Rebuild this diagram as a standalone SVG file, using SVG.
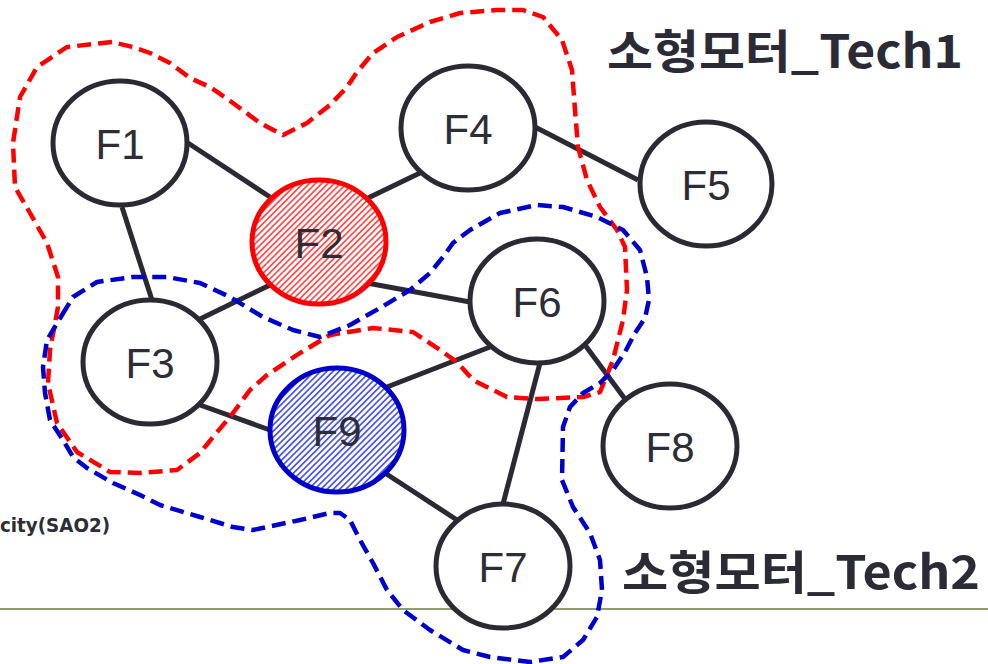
<svg xmlns="http://www.w3.org/2000/svg" width="988" height="664" viewBox="0 0 988 664">
<defs>
<pattern id="hatchRed" patternUnits="userSpaceOnUse" width="4.4" height="4.4" patternTransform="rotate(-45)">
<rect width="4.4" height="4.4" fill="#ffffff"/>
<rect width="4.4" height="1.7" fill="#ff4a4a"/>
</pattern>
<pattern id="hatchBlue" patternUnits="userSpaceOnUse" width="4.4" height="4.4" patternTransform="rotate(-45)">
<rect width="4.4" height="4.4" fill="#ffffff"/>
<rect width="4.4" height="1.7" fill="#4a55e6"/>
</pattern>
</defs>
<style>
.edge{stroke:#2b2a33;stroke-width:5;fill:none}
.node{fill:#ffffff;stroke:#2b2a33;stroke-width:5}
.lbl{font-family:"Liberation Sans",Arial,sans-serif;font-size:42px;fill:#2d2d35;text-anchor:middle}
.grp{fill:none;stroke-width:4.5;stroke-dasharray:14 7;stroke-linejoin:round}
.title{font-family:"Noto Sans CJK KR","Noto Sans",sans-serif;font-size:46px;font-weight:bold;fill:#2b2b35}
</style>
<rect width="988" height="664" fill="#ffffff"/>
<line x1="0" y1="609" x2="988" y2="609" stroke="#8f9c74" stroke-width="2.2"/>
<text x="0" y="532" font-family="'DejaVu Sans',Verdana,sans-serif" font-size="19.5" font-weight="bold" fill="#2d2d35" textLength="110" lengthAdjust="spacingAndGlyphs">city(SAO2)</text>
<g id="connectors">
<line class="edge" x1="188" y1="143" x2="270" y2="197"/>
<line class="edge" x1="122" y1="207" x2="152" y2="300"/>
<line class="edge" x1="270" y1="285" x2="198" y2="320"/>
<line class="edge" x1="368" y1="198" x2="422" y2="172"/>
<line class="edge" x1="535" y1="127" x2="638" y2="180"/>
<line class="edge" x1="367" y1="283" x2="470" y2="302"/>
<line class="edge" x1="200" y1="405" x2="270" y2="430"/>
<line class="edge" x1="387" y1="387" x2="490" y2="347"/>
<line class="edge" x1="540" y1="363" x2="503" y2="504"/>
<line class="edge" x1="585" y1="345" x2="625" y2="399"/>
<line class="edge" x1="385" y1="473" x2="457" y2="520"/>
</g>
<g id="node-F1"><ellipse class="node" cx="120" cy="143" rx="67" ry="62"/><text class="lbl" x="120" y="159">F1</text></g>
<g id="node-F2"><ellipse cx="319" cy="242" rx="67" ry="62" fill="url(#hatchRed)" stroke="#ff0000" stroke-width="5"/><text class="lbl" x="319" y="258">F2</text></g>
<g id="node-F3"><ellipse class="node" cx="150" cy="362" rx="67" ry="62"/><text class="lbl" x="150" y="378">F3</text></g>
<g id="node-F4"><ellipse class="node" cx="468" cy="128" rx="67" ry="62"/><text class="lbl" x="468" y="144">F4</text></g>
<g id="node-F5"><ellipse class="node" cx="706" cy="184" rx="66" ry="62"/><text class="lbl" x="706" y="200">F5</text></g>
<g id="node-F6"><ellipse class="node" cx="537" cy="301" rx="67" ry="62"/><text class="lbl" x="537" y="317">F6</text></g>
<g id="node-F7"><ellipse class="node" cx="503" cy="566" rx="67" ry="62"/><text class="lbl" x="503" y="582">F7</text></g>
<g id="node-F8"><ellipse class="node" cx="670" cy="446" rx="67" ry="62"/><text class="lbl" x="670" y="462">F8</text></g>
<g id="node-F9"><ellipse cx="337" cy="430" rx="67" ry="62" fill="url(#hatchBlue)" stroke="#0000c8" stroke-width="5"/><text class="lbl" x="337" y="446">F9</text></g>
<g id="group-tech1">
<path class="grp" stroke="#ff0000" d="M112,42 L67,47 L37,67 L20,97 L13,143 L15,187 L30,213 L47,243 L58,277 L58,307 L50,350 L48,383 L57,423 L77,452 L110,472 L140,473 L177,470 L200,453 L213,437 L233,413 L250,390 L267,375 L300,353 L330,335 L373,328 L413,332 L440,350 L457,362 L473,380 L507,397 L537,399 L583,397 L600,392 L613,360 L623,320 L627,290 L625,247 L617,230 L600,207 L587,180 L578,147 L575,110 L572,70 L562,40 L543,17 L523,10 L497,10 L460,13 L430,22 L397,37 L373,53 L357,72 L347,87 L330,105 L307,123 L283,135 L260,123 L233,103 L210,87 L190,78 L170,63 L150,53 L133,47 Z"/>
<text class="title" x="607" y="68" textLength="356" lengthAdjust="spacingAndGlyphs">소형모터_Tech1</text>
</g>
<g id="group-tech2">
<path class="grp" stroke="#0000cc" d="M62,315 L73,297 L97,282 L133,277 L167,277 L200,283 L230,297 L263,317 L293,330 L320,337 L350,325 L380,308 L410,290 L430,273 L443,257 L453,243 L470,230 L500,213 L537,205 L563,207 L597,217 L623,230 L640,250 L647,277 L649,300 L645,318 L635,333 L625,352 L613,370 L600,383 L583,393 L570,407 L563,427 L562,480 L573,507 L590,533 L600,560 L602,590 L597,617 L583,640 L563,657 L530,662 L490,657 L463,650 L430,630 L403,610 L387,590 L373,563 L360,540 L350,520 L340,513 L330,513 L300,520 L253,530 L233,527 L200,517 L160,505 L140,495 L113,483 L87,468 L73,457 L63,440 L50,420 L45,393 L43,367 L47,340 Z"/>
<text class="title" x="622" y="589" textLength="358" lengthAdjust="spacingAndGlyphs">소형모터_Tech2</text>
</g>
</svg>
